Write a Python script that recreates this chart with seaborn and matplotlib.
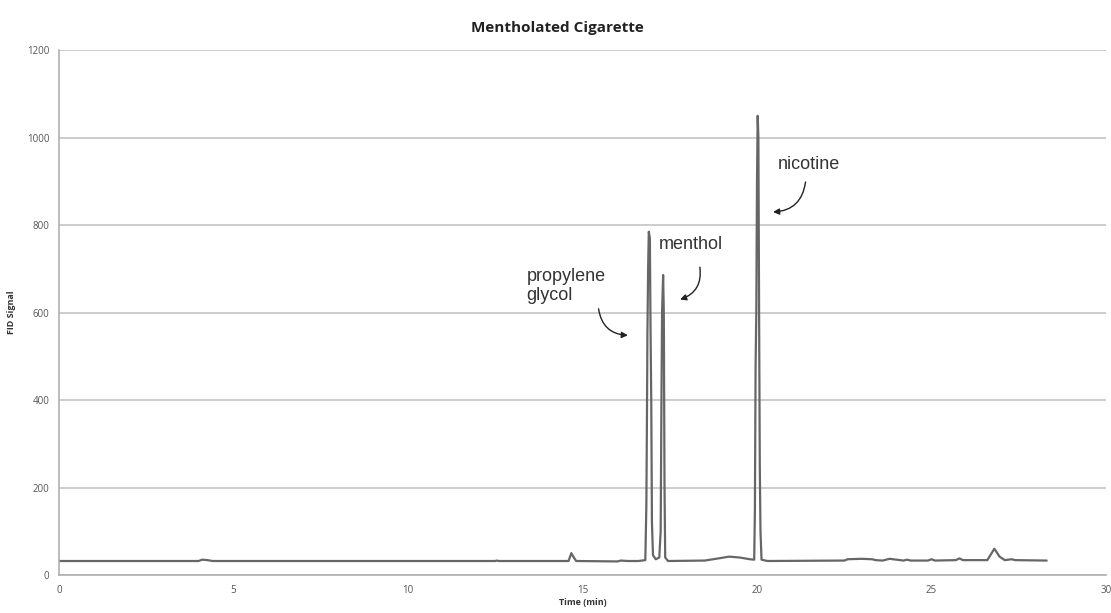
import matplotlib
matplotlib.use('Agg')
import matplotlib.pyplot as plt
import seaborn as sns
import pandas as pd

# chromatogram trace (time in min, FID signal)
time_min = [0.0, 4.0, 4.1, 4.25, 4.4, 12.5, 12.55, 12.6, 14.6, 14.68, 14.75, 14.82,
            16.0, 16.1, 16.3, 16.6, 16.8, 16.83, 16.85, 16.86, 16.88, 16.9, 16.93,
            16.95, 16.97, 16.99, 17.02, 17.1, 17.2, 17.24, 17.26, 17.28, 17.31, 17.33,
            17.35, 17.37, 17.45, 18.5, 18.9, 19.2, 19.5, 19.8, 19.92, 19.94, 19.96,
            19.98, 20.0, 20.02, 20.04, 20.06, 20.08, 20.1, 20.13, 20.3, 22.5, 22.6,
            23.0, 23.3, 23.4, 23.6, 23.8, 24.0, 24.2, 24.3, 24.4, 24.9, 25.0, 25.1,
            25.7, 25.8, 25.9, 26.6, 26.8, 26.95, 27.1, 27.3, 27.4, 28.3]
fid_signal = [32, 32, 35, 34, 32, 32, 33, 32, 32, 50, 40, 32,
              31, 33, 32, 32, 34, 160, 400, 550, 700, 785, 770,
              560, 400, 120, 45, 36, 40, 100, 370, 600, 686, 600,
              200, 40, 32, 33, 38, 42, 40, 36, 35, 150, 480,
              600, 900, 1050, 1000, 600, 250, 100, 35, 32, 33, 36,
              37, 36, 34, 33, 37, 35, 33, 35, 33, 33, 36, 33,
              34, 38, 34, 34, 60, 42, 34, 36, 34, 33]

peak_names = ['propylene\nglycol', 'menthol', 'nicotine']
label_pos = [(13.4, 660), (17.2, 755), (20.6, 938)]
arrow_start = [(15.45, 615), (18.35, 710), (21.4, 905)]
arrow_end = [(16.38, 548), (17.72, 628), (20.38, 830)]

sns.set_style('white')
plt.rcParams['font.family'] = ['Liberation Sans', 'DejaVu Sans']

fig = plt.figure(figsize=(11.11, 6.13), dpi=100)
ax = fig.add_axes([0.0531, 0.062, 0.9424, 0.856])

df = pd.DataFrame({'time': time_min, 'signal': fid_signal})
sns.lineplot(data=df, x='time', y='signal', ax=ax, color='#666666',
             linewidth=1.6, estimator=None, sort=False)

ax.set_xlim(0, 30)
ax.set_ylim(0, 1200)
ax.set_xticks(range(0, 31, 5))
ax.set_yticks(range(0, 1201, 200))
ax.yaxis.grid(True, color='#c4c4c4', linewidth=1.2)
ax.set_axisbelow(True)
for side in ['top', 'right']:
    ax.spines[side].set_visible(False)
for side in ['left', 'bottom']:
    ax.spines[side].set_color('#b0b0b0')
    ax.spines[side].set_linewidth(1.2)
ax.tick_params(axis='both', labelsize=7, colors='#555555', length=3,
               width=0.8, direction='out', pad=4)
ax.tick_params(axis='both', color='#b0b0b0')
for lbl in ax.get_xticklabels() + ax.get_yticklabels():
    lbl.set_family('Open Sans')

ax.set_xlabel('Time (min)', fontsize=6.5, fontweight='bold', family='Open Sans',
              color='#333333', labelpad=2)
ax.set_ylabel('FID Signal', fontsize=6.5, fontweight='bold', family='Open Sans',
              color='#333333', labelpad=8)

fig.text(557 / 1111, 1 - 28 / 613, 'Mentholated Cigarette', ha='center', va='center',
         fontsize=11, fontweight='bold', family='Open Sans', color='#222222')

for i, (name, pos, a0, a1) in enumerate(zip(peak_names, label_pos, arrow_start, arrow_end)):
    ax.text(pos[0], pos[1], name, fontsize=13, color='#333333', va='center',
            ha='left', linespacing=1.15)
    rad = 0.45 if i == 0 else -0.45
    ax.annotate('', xy=a1, xytext=a0,
                arrowprops=dict(arrowstyle='-|>', color='#222222', lw=1.0,
                                connectionstyle=f'arc3,rad={rad}',
                                mutation_scale=9))

fig.savefig('out.png', dpi=100)
